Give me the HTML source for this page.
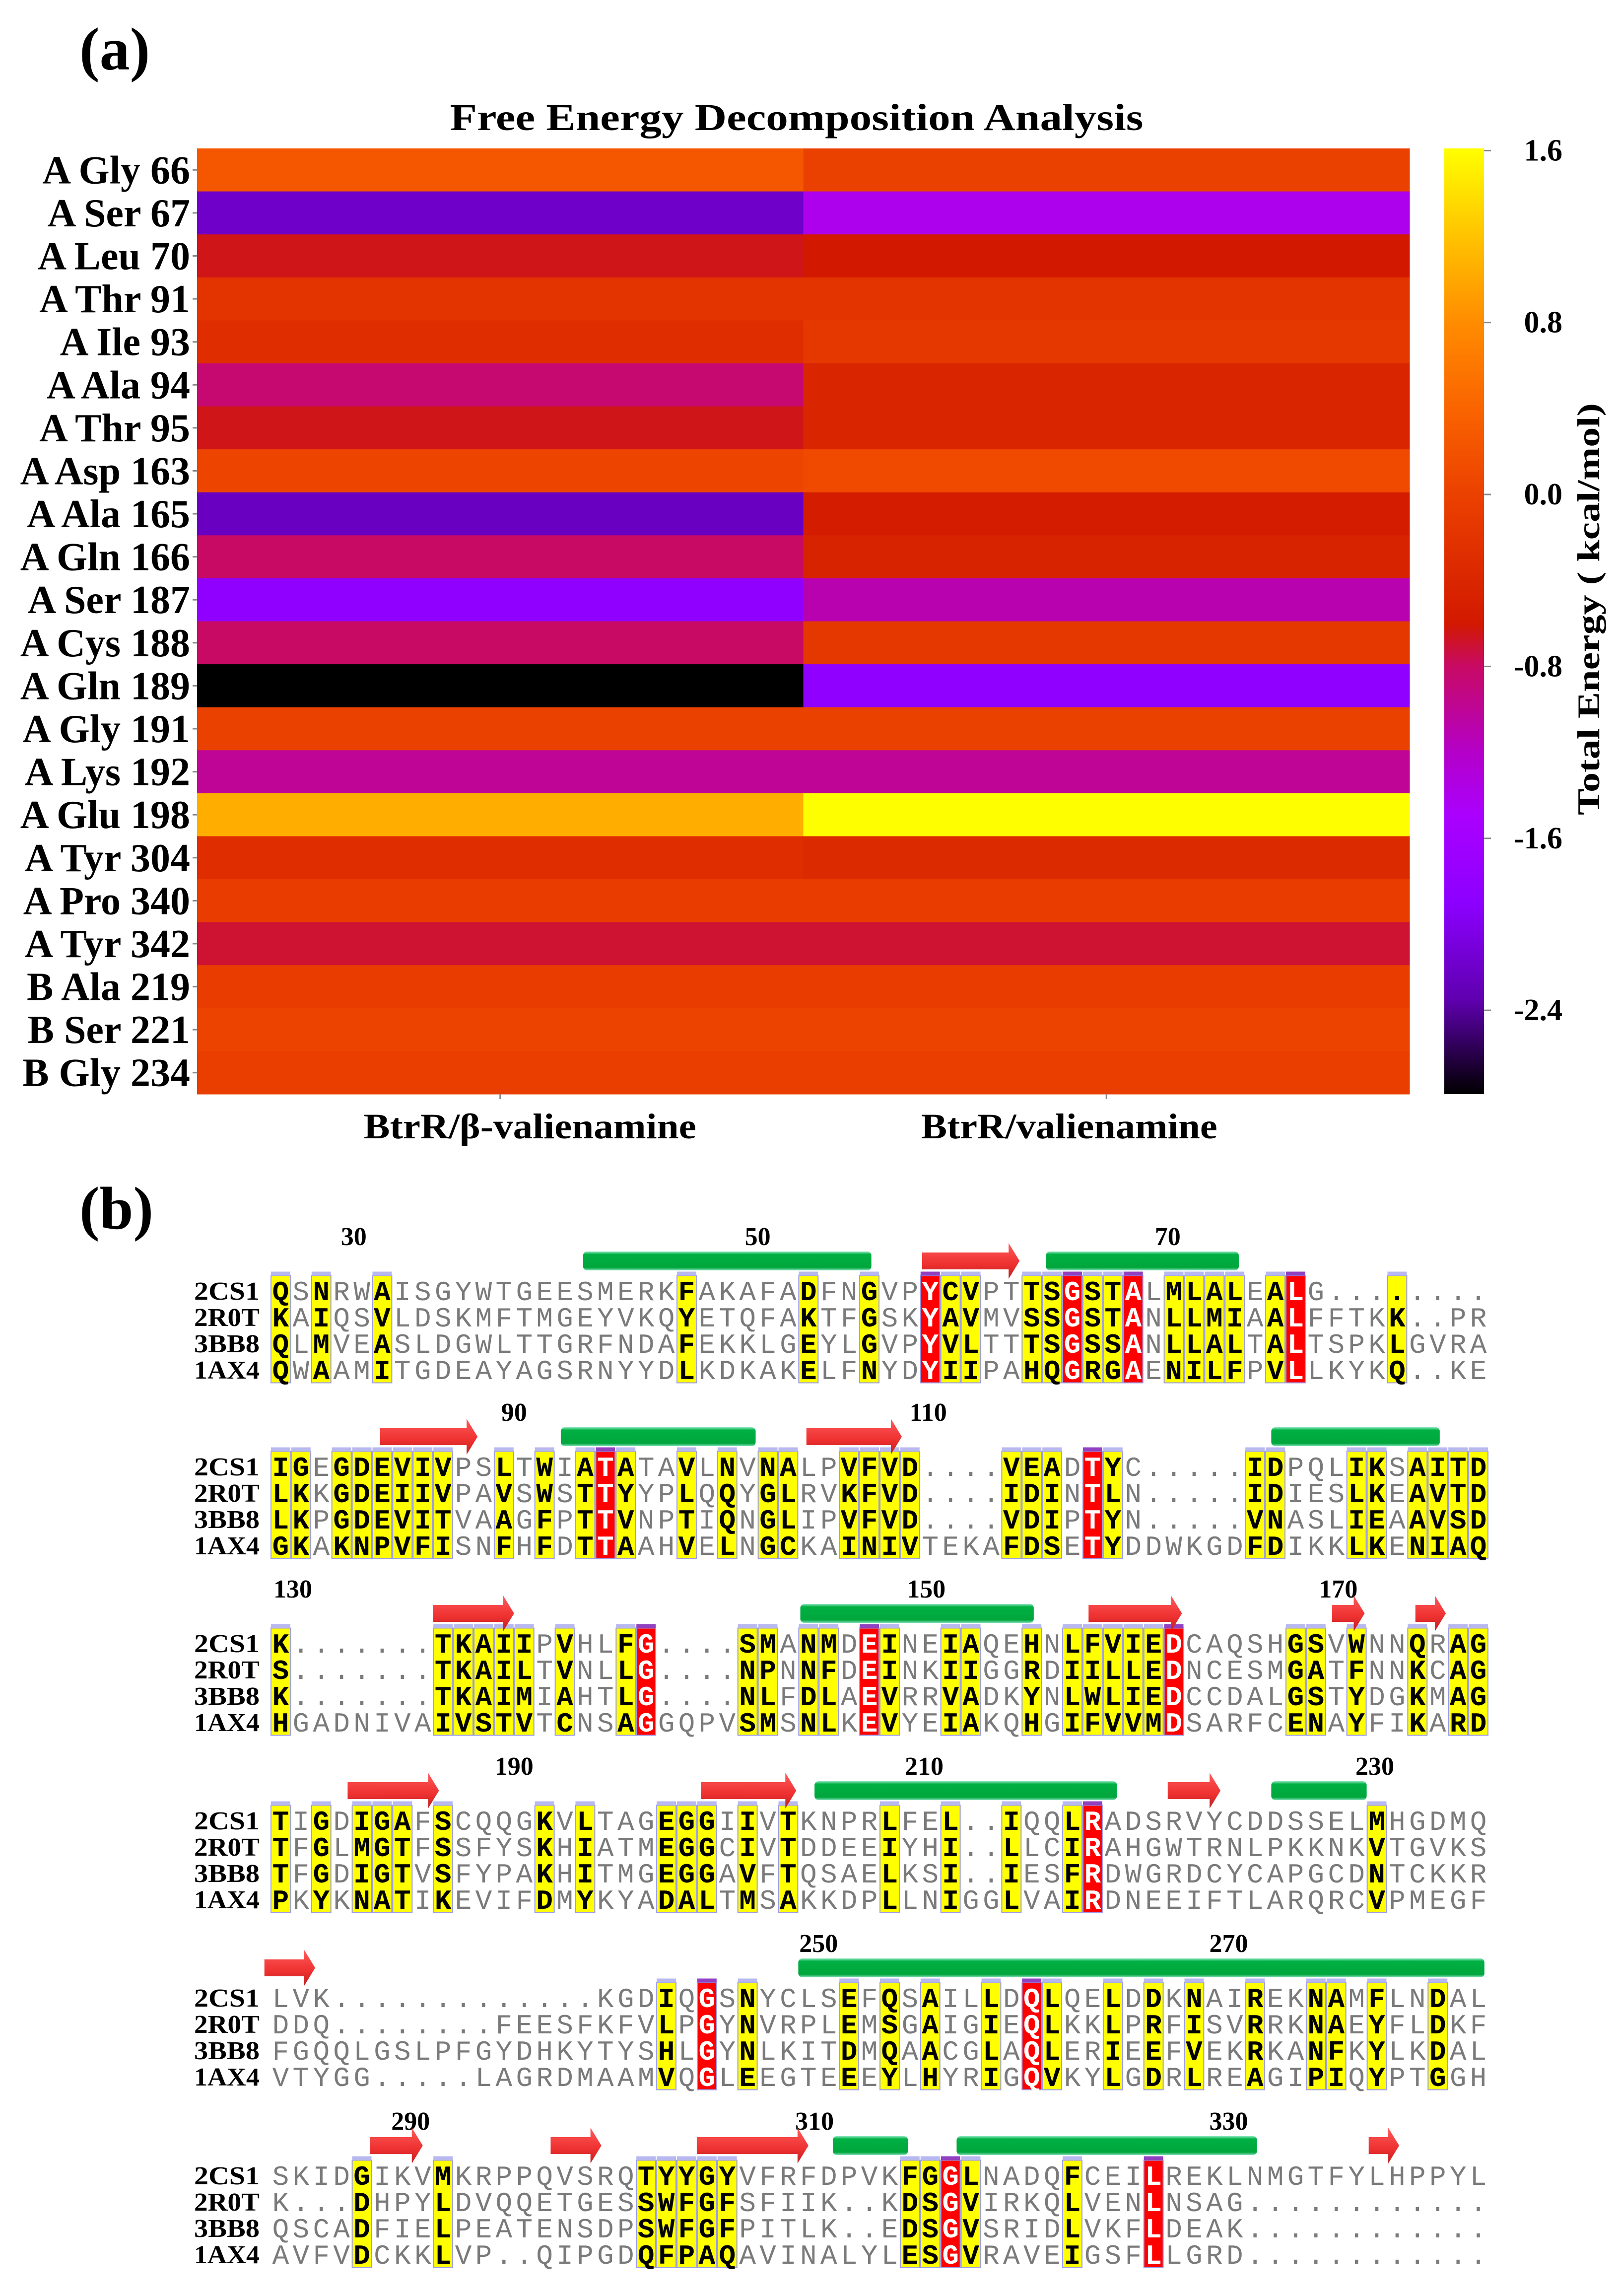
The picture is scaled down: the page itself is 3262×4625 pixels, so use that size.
<!DOCTYPE html>
<html><head><meta charset="utf-8">
<style>
html,body{margin:0;padding:0;background:#fff;}
svg{display:block;}
</style></head>
<body>
<svg id="fig" width="3262" height="4625" viewBox="0 0 3262 4625" xmlns="http://www.w3.org/2000/svg">
<defs>
<linearGradient id="cbgrad" x1="0" y1="1" x2="0" y2="0"></linearGradient>
<linearGradient id="arrowgrad" x1="0" y1="0" x2="0" y2="1">
<stop offset="0" stop-color="#ff5a5a"/><stop offset="0.6" stop-color="#ee3030"/><stop offset="1" stop-color="#c02020"/>
</linearGradient>
<linearGradient id="helixgrad" x1="0" y1="0" x2="0" y2="1">
<stop offset="0" stop-color="#8fe8c0"/><stop offset="0.15" stop-color="#00b044"/><stop offset="0.85" stop-color="#00a63c"/><stop offset="1" stop-color="#7fe0b8"/>
</linearGradient>
</defs>
<text x="160" y="140" font-family="Liberation Serif, serif" font-weight="bold" font-size="122">(a)</text>
<text x="1605" y="262" text-anchor="middle" font-family="Liberation Serif, serif" font-weight="bold" font-size="76" textLength="1397" lengthAdjust="spacingAndGlyphs">Free Energy Decomposition Analysis</text>
<g id="heatmap"></g>
<g id="colorbar"></g>
<text transform="translate(3222,1227) rotate(-90)" text-anchor="middle" font-family="Liberation Serif, serif" font-weight="bold" font-size="64" textLength="830" lengthAdjust="spacingAndGlyphs">Total Energy ( kcal/mol)</text>
<text x="160" y="2475" font-family="Liberation Serif, serif" font-weight="bold" font-size="122">(b)</text>
<g id="alignment"></g>
</svg>
<script>
// ---------- Heatmap data ----------
const residues = ["A Gly 66","A Ser 67","A Leu 70","A Thr 91","A Ile 93","A Ala 94","A Thr 95","A Asp 163","A Ala 165","A Gln 166","A Ser 187","A Cys 188","A Gln 189","A Gly 191","A Lys 192","A Glu 198","A Tyr 304","A Pro 340","A Tyr 342","B Ala 219","B Ser 221","B Gly 234"];
const complexes = ["BtrR/\u03b2-valienamine","BtrR/valienamine"];
const valuesBeta = [0.25,-2.2,-0.65,-0.2,-0.3,-0.85,-0.65,0.05,-2.25,-0.8,-1.85,-0.8,-2.79,0.0,-1.0,1.05,-0.3,-0.08,-0.7,-0.08,0.02,-0.05];
const valuesVal = [0.0,-1.4,-0.6,-0.2,-0.15,-0.4,-0.4,0.1,-0.55,-0.45,-1.1,-0.15,-1.85,0.0,-1.0,1.6,-0.35,-0.08,-0.7,-0.08,0.02,-0.05];
const cbTicks = [1.6,0.8,0.0,-0.8,-1.6,-2.4];
const cbTickLabels = ["1.6","0.8","0.0","-0.8","-1.6","-2.4"];
const vMin = -2.79, vMax = 1.61;

const NS = "http://www.w3.org/2000/svg";
function mk(tag, attrs, parent){const e=document.createElementNS(NS,tag);for(const k in attrs)e.setAttribute(k,attrs[k]);if(parent)parent.appendChild(e);return e;}

const cmapStops=[[-2.79,[0,0,0]],[-2.35,[95,0,175]],[-1.9,[140,0,255]],[-1.5,[170,0,255]],[-1.2,[180,0,200]],[-0.8,[200,10,100]],[-0.6,[210,25,0]],[0.0,[235,65,0]],[0.4,[250,100,0]],[0.8,[255,140,0]],[1.2,[255,195,0]],[1.61,[255,255,0]]];
function cmap(v){
  if(v<=cmapStops[0][0])return "rgb(0,0,0)";
  for(let i=1;i<cmapStops.length;i++){
    const [v1,c1]=cmapStops[i];const [v0,c0]=cmapStops[i-1];
    if(v<=v1){const t=(v-v0)/(v1-v0);return "rgb("+c0.map((c,j)=>Math.round(c+(c1[j]-c)*t)).join(",")+")";}
  }
  return "rgb(255,255,0)";
}

const hm=document.getElementById('heatmap');
const X0=397,X1=2840,Y0=299,Y1=2204;
const rowH=(Y1-Y0)/residues.length;
const colW=(X1-X0)/complexes.length;
function yRow(i){return Y0+i*rowH;}
function xCol(j){return X0+j*colW;}
const series=[valuesBeta,valuesVal];
series.forEach((vals,j)=>{
  vals.forEach((v,i)=>{
    const r=mk('rect',{x:xCol(j),y:yRow(i),width:colW+0.5,height:rowH+0.5,fill:cmap(v)},hm);
    
    
  });
});
residues.forEach((lab,i)=>{
  const cy=yRow(i)+rowH/2;
  const t=mk('text',{x:383,y:cy+27,'text-anchor':'end','font-family':'Liberation Serif, serif','font-weight':'bold','font-size':80},hm);
  t.textContent=lab;
  
  
  const tk=mk('line',{x1:388,x2:397,y1:cy,y2:cy,stroke:'#888','stroke-width':3},hm);
  
  
});
const xLabW=[670,597];
const xLabOffset=[60,-75];
complexes.forEach((lab,j)=>{
  const cx=xCol(j)+colW/2;
  const tk=mk('line',{x1:cx,x2:cx,y1:Y1,y2:Y1+10,stroke:'#888','stroke-width':3},hm);
  
  
  const t=mk('text',{x:cx+xLabOffset[j],y:2293,'text-anchor':'middle','font-family':'Liberation Serif, serif','font-weight':'bold','font-size':72,textLength:xLabW[j],lengthAdjust:'spacingAndGlyphs'},hm);
  t.textContent=lab;
  
  
});

const grad=document.getElementById('cbgrad');
cmapStops.forEach(s=>{mk('stop',{offset:((s[0]-vMin)/(vMax-vMin)).toFixed(4),'stop-color':cmap(s[0])},grad);});
const cb=document.getElementById('colorbar');
const CBX=2910,CBW=80;
function cbY(v){return Y1-(v-vMin)/(vMax-vMin)*(Y1-Y0);}
const cbr=mk('rect',{x:CBX,y:Y0,width:CBW,height:Y1-Y0,fill:'url(#cbgrad)'},cb);


cbTicks.forEach((v,i)=>{
  const y=cbY(v);
  const l=mk('line',{x1:CBX+CBW,x2:CBX+CBW+14,y1:y,y2:y,stroke:'#888','stroke-width':3},cb);
  
  
  const t=mk('text',{x:3148,y:y+20,'text-anchor':'end','font-family':'Liberation Serif, serif','font-weight':'bold','font-size':62},cb);
  t.textContent=cbTickLabels[i];
  
  
});

// ---------- Alignment ----------
const seqNames=["2CS1","2R0T","3BB8","1AX4"];
const blocks=[
 {cy:2600,seq:["QSNRWAISGYWTGEESMERKFAKAFADFNGVPYCVPTTSGSTALMLALEALG........","KAIQSVLDSKMFTMGEYVKQYETQFAKTFGSKYAVMVSSGSTANLLMIAALFFTKK..PR","QLMVEASLDGWLTTGRFNDAFEKKLGEYLGVPYVLTTTSGSSANLLALTALTSPKLGVRA","QWAAMITGDEAYAGSRNYYDLKDKAKELFNYDYIIPAHQGRGAENILFPVLLKYKQ..KE"],
  yel:[0,2,5,20,26,29,33,34,37,38,40,41,44,45,46,47,49,55],red:[32,39,42,50],
  nums:[["30",3.6],["50",23.5],["70",43.7]],ss:[["h",15.4,29.6],["a",32.1,36.9],["h",38.2,47.7]]},
 {cy:2954,seq:["IGEGDEVIVPSLTWIATATAVLNVNALPVFVD....VEADTYC.....IDPQLIKSAITD","LKKGDEIIVPAVSWSTTYYPLQQYGLRVKFVD....IDINTLN.....IDIESLKEAVTD","LKPGDEVITVAAGFPTTVNPTIQNGLIPVFVD....VDIPTYN.....VNASLIEAAVSD","GKAKNPVFISNFHFDTTAAHVELNGCKAINIVTEKAFDSETYDDWKGDFDIKKLKENIAQ"],
  yel:[0,1,3,4,5,6,7,8,11,13,15,17,20,22,24,25,28,29,30,31,36,37,38,41,48,49,53,54,56,57,58,59],red:[16,40],
  nums:[["90",11.5],["110",31.9]],ss:[["a",5.4,10.2],["h",14.3,23.9],["a",26.4,31.1],["h",49.3,57.6]]},
 {cy:3310,seq:["K.......TKAIIPVHLFG....SMANMDEINEIAQEHNLFVIEDCAQSHGSVWNNQRAG","S.......TKAILTVNLLG....NPNNFDEINKIIGGRDIILLEDNCESMGATFNNKCAG","K.......TKAIMIAHTLG....NLFDLAEVRRVADKYNLWLIEDCCDALGSTYDGKMAG","HGADNIVAIVSTVTCNSAGGQPVSMSNLKEVYEIAKQHGIFVVMDSARFCENAYFIKARD"],
  yel:[0,8,9,10,11,12,14,17,23,24,26,27,30,33,34,37,39,40,41,42,43,50,51,53,56,58,59],red:[18,29,44],
  nums:[["130",0.6],["150",31.8],["170",52.1]],ss:[["a",8.0,12.0],["h",26.1,37.6],["a",40.3,44.9],["a",52.3,53.9],["a",56.4,57.9]]},
 {cy:3667,seq:["TIGDIGAFSCQQGKVLTAGEGGIIVTKNPRLFEL..IQQLRADSRVYCDDSSELMHGDMQ","TFGLMGTFSSFYSKHIATMEGGCIVTDDEEIYHI..LLCIRAHGWTRNLPKKNKVTGVKS","TFGDIGTVSFYPAKHITMGEGGAVFTQSAELKSI..IESFRDWGRDCYCAPGCDNTCKKR","PKYKNATIKEVIFDMYKYADALTMSAKKDPLLNIGGLVAIRDNEEIFTLARQRCVPMEGF"],
  yel:[0,2,4,5,6,8,13,15,19,20,21,23,25,30,33,36,39,54],red:[40],
  nums:[["190",11.5],["210",31.7],["230",53.9]],ss:[["a",3.8,8.3],["a",21.2,25.9],["h",26.8,41.7],["a",44.2,46.8],["h",49.3,54.0]]},
 {cy:4024,seq:["LVK.............KGDIQGSNYCLSEFQSAILLDQLQELDDKNAIREKNAMFLNDAL","DDQ........FEESFKFVLPGYNVRPLEMSGAIGIEQLKKLPRFISVRRKNAEYFLDKF","FGQQLGSLPFGYDHKYTYSHLGYNLKITDMQAACGLAQLERIEEFVEKRKANFKYLKDAL","VTYGG.....LAGRDMAAMVQGLEEGTEEEYLHYRIGQVKYLGDRLREAGIPIQYPTGGH"],
  yel:[19,23,28,30,32,35,38,41,43,45,48,51,52,54,57],red:[21,37],
  nums:[["250",26.5],["270",46.7]],ss:[["a",-0.3,2.2],["h",26.0,59.8]]},
 {cy:4382,seq:["SKIDGIKVMKRPPQVSRQTYYGYVFRFDPVKFGGLNADQFCEILREKLNMGTFYLHPPYL","K...DHPYLDVQQETGESSWFGFSFIIK..KDSGVIRKQLVENLNSAG............","QSCADFIELPEATENSDPSWFGFPITLK..EDSGVSRIDLVKFLDEAK............","AVFVDCKKLVP..QIPGDQFPAQAVINALYLESGVRAVEIGSFLLGRD............"],
  yel:[4,8,18,19,20,21,22,31,32,34,39],red:[33,43],
  nums:[["290",6.4],["310",26.3],["330",46.7]],ss:[["a",4.9,7.5],["a",13.8,16.3],["a",21.0,26.5],["h",27.7,31.4],["h",33.8,48.6],["a",54.1,55.6]]}
];
const al=document.getElementById('alignment');
const COL0=545,PITCH=40.9,RP=53;
function colX(c){return COL0+c*PITCH;}
blocks.forEach((b,bi)=>{
  const g=mk('g',{},al);
  
  
  const top=b.cy-RP/2-4, bot=b.cy+3*RP+RP/2;
  b.yel.forEach(c=>{
    const r=mk('rect',{x:colX(c)+1,y:top,width:PITCH-2,height:bot-top,fill:'#ffff00',stroke:'#9a9ae8','stroke-width':2},g);
    
    
    mk('rect',{x:colX(c)+1,y:top-8,width:PITCH-2,height:8,fill:'#b8b8f0'},g);
  });
  b.red.forEach(c=>{
    const r=mk('rect',{x:colX(c)+1,y:top,width:PITCH-2,height:bot-top,fill:'#ff0000',stroke:'#9a9ae8','stroke-width':2},g);
    
    
    mk('rect',{x:colX(c)+1,y:top-8,width:PITCH-2,height:8,fill:'#9040c0'},g);
  });
  b.nums.forEach(n=>{
    const t=mk('text',{x:colX(n[1])+PITCH/2,y:b.cy-92,'text-anchor':'middle','font-family':'Liberation Serif, serif','font-weight':'bold','font-size':52},g);
    t.textContent=n[0];
    
    
  });
  const sy=b.cy-60;
  b.ss.forEach(s=>{
    const x1=colX(s[1]),x2=colX(s[2]);
    if(s[0]==='h'){
      const r=mk('rect',{x:x1,y:sy-19,width:x2-x1,height:38,rx:8,fill:'url(#helixgrad)'},g);
      
      
    }else{
      const hl=Math.min(22,(x2-x1)*0.4);
      const p=mk('polygon',{points:`${x1},${sy-17} ${x2-hl},${sy-17} ${x2-hl},${sy-36} ${x2},${sy} ${x2-hl},${sy+36} ${x2-hl},${sy+17} ${x1},${sy+17}`,fill:'url(#arrowgrad)'},g);
      
      
    }
  });
  b.seq.forEach((s,ri)=>{
    const y=b.cy+ri*RP;
    const nt=mk('text',{x:391,y:y+18,'font-family':'Liberation Serif, serif','font-weight':'bold','font-size':52,textLength:132,lengthAdjust:'spacingAndGlyphs'},g);
    nt.textContent=seqNames[ri];
    
    
    const row=mk('text',{y:y+19,'font-family':'Liberation Mono, monospace','font-size':56},g);
    
    
    for(let c=0;c<s.length;c++){
      const ch=s[c];
      const isY=b.yel.includes(c),isR=b.red.includes(c);
      const ts=mk('tspan',{x:colX(c)+PITCH/2,'text-anchor':'middle'},row);
      ts.setAttribute('fill',isR?'#ffffff':(isY?'#000000':'#7a7a7a'));
      if(isY||isR)ts.setAttribute('font-weight','bold');
      ts.textContent=ch;
    }
  });
});
</script>
</body></html>
